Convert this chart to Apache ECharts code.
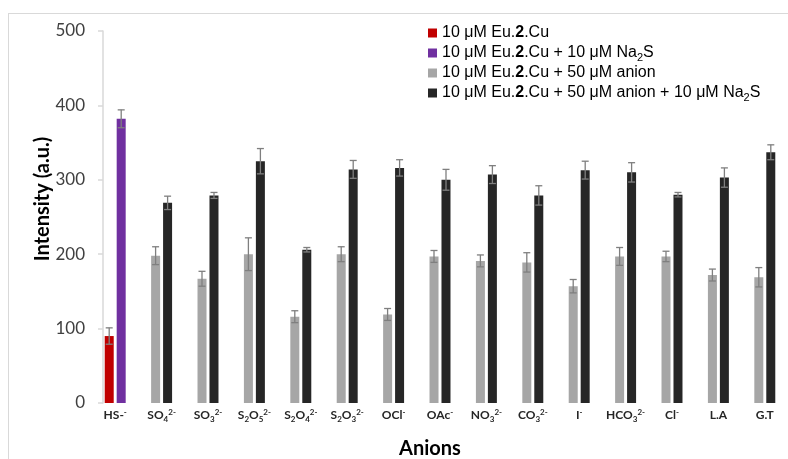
<!DOCTYPE html>
<html>
<head>
<meta charset="utf-8">
<script src="https://cdn.jsdelivr.net/npm/echarts@6/dist/echarts.min.js"></script>
<style>
  html, body { margin: 0; padding: 0; background: #fff; }
  #main { width: 788px; height: 459px; }
</style>
</head>
<body>
<div id="main"></div>
<script>
// categories (rich markup for sub/superscripts)
var categories = ['HS-{p|-}', 'SO{s|4}{p|2-}', 'SO{s|3}{p|2-}', 'S{s|2}O{s|5}{p|2-}', 'S{s|2}O{s|4}{p|2-}',
    'S{s|2}O{s|3}{p|2-}', 'OCl{p|-}', 'OAc{p|-}', 'NO{s|3}{p|2-}', 'CO{s|3}{p|2-}', 'I{p|-}',
    'HCO{s|3}{p|2-}', 'Cl{p|-}', 'L.A', 'G.T'];

var names = ['10 μM Eu.2.Cu', '10 μM Eu.2.Cu + 10 μM Na2S',
    '10 μM Eu.2.Cu + 50 μM anion', '10 μM Eu.2.Cu + 50 μM anion + 10 μM Na2S'];

var red = [90, null, null, null, null, null, null, null, null, null, null, null, null, null, null];
var redErr = [11, null, null, null, null, null, null, null, null, null, null, null, null, null, null];
var purple = [382, null, null, null, null, null, null, null, null, null, null, null, null, null, null];
var purpleErr = [12, null, null, null, null, null, null, null, null, null, null, null, null, null, null];
var gray = [null, 198, 167, 200, 116, 200, 119, 197, 191, 189, 157, 197, 197, 172, 169];
var grayErr = [null, 12, 10, 22, 8, 10, 8, 8, 8, 13, 9, 12, 7, 8, 13];
var black = [null, 269, 279, 325, 206, 314, 316, 300, 307, 279, 313, 310, 280, 303, 337];
var blackErr = [null, 9, 4, 17, 3, 12, 11, 14, 12, 13, 12, 13, 3, 13, 10];

var colors = ['#c00000', '#7030a0', '#a6a6a6', '#262626'];

var chart = echarts.init(document.getElementById('main'));

function errData(vals, errs) {
    var out = [];
    for (var i = 0; i < vals.length; i++) {
        if (vals[i] != null) out.push([i, vals[i], errs[i]]);
    }
    return out;
}

function errRender(shift) {
    return function(params, api) {
        var x = api.value(0), v = api.value(1), e = api.value(2);
        var top = api.coord([x, v + e]);
        var bot = api.coord([x, v - e]);
        var cx = top[0] + shift;
        var st = { stroke: '#7f7f7f', lineWidth: 1.3 };
        return {
            type: 'group',
            children: [
                { type: 'line', shape: { x1: cx, y1: top[1], x2: cx, y2: bot[1] }, style: st },
                { type: 'line', shape: { x1: cx - 3.5, y1: top[1], x2: cx + 3.5, y2: top[1] }, style: st },
                { type: 'line', shape: { x1: cx - 3.5, y1: bot[1], x2: cx + 3.5, y2: bot[1] }, style: st }
            ]
        };
    };
}

function bar(name, data, stack, color) {
    return {
        name: name, type: 'bar', stack: stack, data: data,
        barWidth: 9, barGap: '33%',
        itemStyle: { color: color },
        emphasis: { disabled: true }
    };
}

function errSeries(vals, errs, shift) {
    return {
        type: 'custom', data: errData(vals, errs),
        encode: { x: 0, y: 1 },
        renderItem: errRender(shift), z: 5, silent: true
    };
}

var option = {
    animation: false,
    grid: { left: 92, top: 31, width: 697, height: 372 },
    legend: {
        data: names,
        orient: 'vertical',
        left: 423, top: 18,
        itemWidth: 9, itemHeight: 9, itemGap: 0,
        icon: 'rect',
        formatter: function(n) {
            return n.replace('Eu.2.Cu', 'Eu.{b|2}.Cu').replace('Na2S', 'Na{s|2}S');
        },
        textStyle: {
            fontFamily: 'Liberation Sans', fontSize: 16, color: '#000', lineHeight: 20,
            rich: {
                b: { fontFamily: 'Liberation Sans', fontSize: 16, fontWeight: 'bold', color: '#000', lineHeight: 20 },
                s: { fontFamily: 'Liberation Sans', fontSize: 11, color: '#000', verticalAlign: 'bottom', lineHeight: 20 }
            }
        }
    },
    xAxis: {
        type: 'category',
        data: categories,
        axisLine: { show: false },
        axisTick: { show: false },
        axisLabel: {
            margin: 5,
            interval: 0,
            fontFamily: 'Lato', fontWeight: 'bold', fontSize: 12, color: '#262626', lineHeight: 15,
            rich: {
                s: { fontFamily: 'Lato', fontWeight: 'bold', fontSize: 8, color: '#262626', verticalAlign: 'bottom', lineHeight: 15 },
                p: { fontFamily: 'Lato', fontWeight: 'bold', fontSize: 8, color: '#262626', verticalAlign: 'top', lineHeight: 15 }
            }
        }
    },
    yAxis: {
        type: 'value',
        min: 0, max: 500, interval: 100,
        offset: -11,
        axisLine: { show: true, lineStyle: { color: '#d9d9d9', width: 1.5 } },
        axisTick: { show: true, length: 5, lineStyle: { color: '#d9d9d9', width: 1.5 } },
        splitLine: { show: false },
        axisLabel: { margin: 18, fontFamily: 'Lato', fontSize: 17, color: '#404040' }
    },
    graphic: [
        { type: 'line', shape: { x1: 8.5, y1: 13, x2: 8.5, y2: 459 }, style: { stroke: '#d9d9d9', lineWidth: 1 } },
        { type: 'line', shape: { x1: 8, y1: 13.5, x2: 788, y2: 13.5 }, style: { stroke: '#d9d9d9', lineWidth: 1 } },
        {
            type: 'text', x: 43, y: 199, rotation: Math.PI / 2,
            style: { text: 'Intensity (a.u.)', fontFamily: 'Lato', fontWeight: 'bold', fontSize: 20, fill: '#000', align: 'center', verticalAlign: 'middle' }
        },
        {
            type: 'text', x: 430, y: 449,
            style: { text: 'Anions', fontFamily: 'Lato', fontWeight: 'bold', fontSize: 20, fill: '#000', align: 'center', verticalAlign: 'middle' }
        }
    ],
    series: [
        bar(names[0], red, 'L', colors[0]),
        bar(names[1], purple, 'R', colors[1]),
        bar(names[2], gray, 'L', colors[2]),
        bar(names[3], black, 'R', colors[3]),
        errSeries(red, redErr, -6),
        errSeries(purple, purpleErr, 6),
        errSeries(gray, grayErr, -6),
        errSeries(black, blackErr, 6)
    ]
};

chart.setOption(option);
</script>
</body>
</html>
